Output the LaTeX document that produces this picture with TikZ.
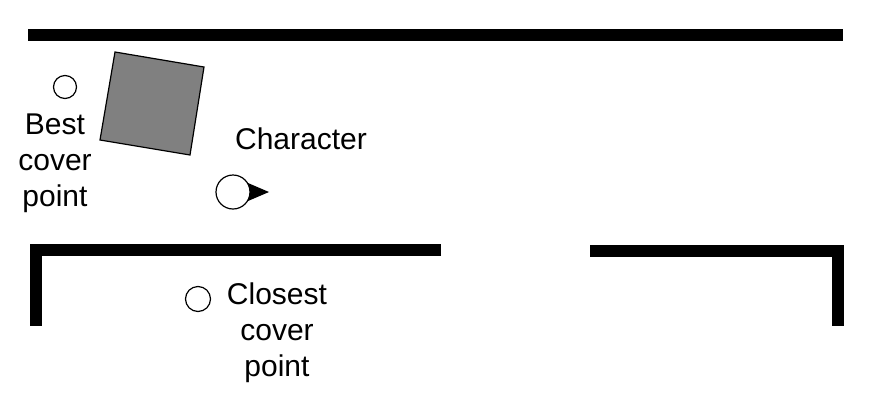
\documentclass[tikz,border=0pt]{standalone}
\usepackage{fontspec}
\setmainfont{Liberation Sans}
\begin{document}
\begin{tikzpicture}[x=1pt,y=-1pt,
  wall/.style={line width=12pt,line cap=butt,line join=miter},
  spot/.style={draw,line width=1.2pt,fill=white},
  lbl/.style={font=\fontsize{30}{36}\selectfont,align=center,inner sep=0pt,text=black}]
\useasboundingbox[fill=white] (0,0) rectangle (871,400);
% walls
\draw[wall] (28,35) -- (843,35);
\draw[wall] (441,250) -- (35.5,250) -- (35.5,326);
\draw[wall] (590,251) -- (837.5,251) -- (837.5,326);
% obstacle
\draw[line width=1.2pt,fill={rgb,255:red,128;green,128;blue,128}] (115,52) -- (204,67) -- (190,155) -- (100,140) -- cycle;
% best cover point
\node[spot,circle,minimum size=23pt,inner sep=0pt] (best) at (65,87) {};
\node[lbl,anchor=north] (bestlbl) at (55,114) {Best\\cover\\point};
% character
\coordinate (tip) at (269,192);
\fill (tip) -- (248,183) -- (248,201) -- cycle;
\node[spot,circle,minimum size=34pt,inner sep=0pt] (char) at (233,192) {};
\node[lbl,anchor=base] (charlbl) at (301,149.5) {Character};
% closest cover point
\node[spot,circle,minimum size=25pt,inner sep=0pt] (closest) at (198,299) {};
\node[lbl,anchor=north] (closestlbl) at (277,283) {Closest\\cover\\point};
\end{tikzpicture}
\end{document}
